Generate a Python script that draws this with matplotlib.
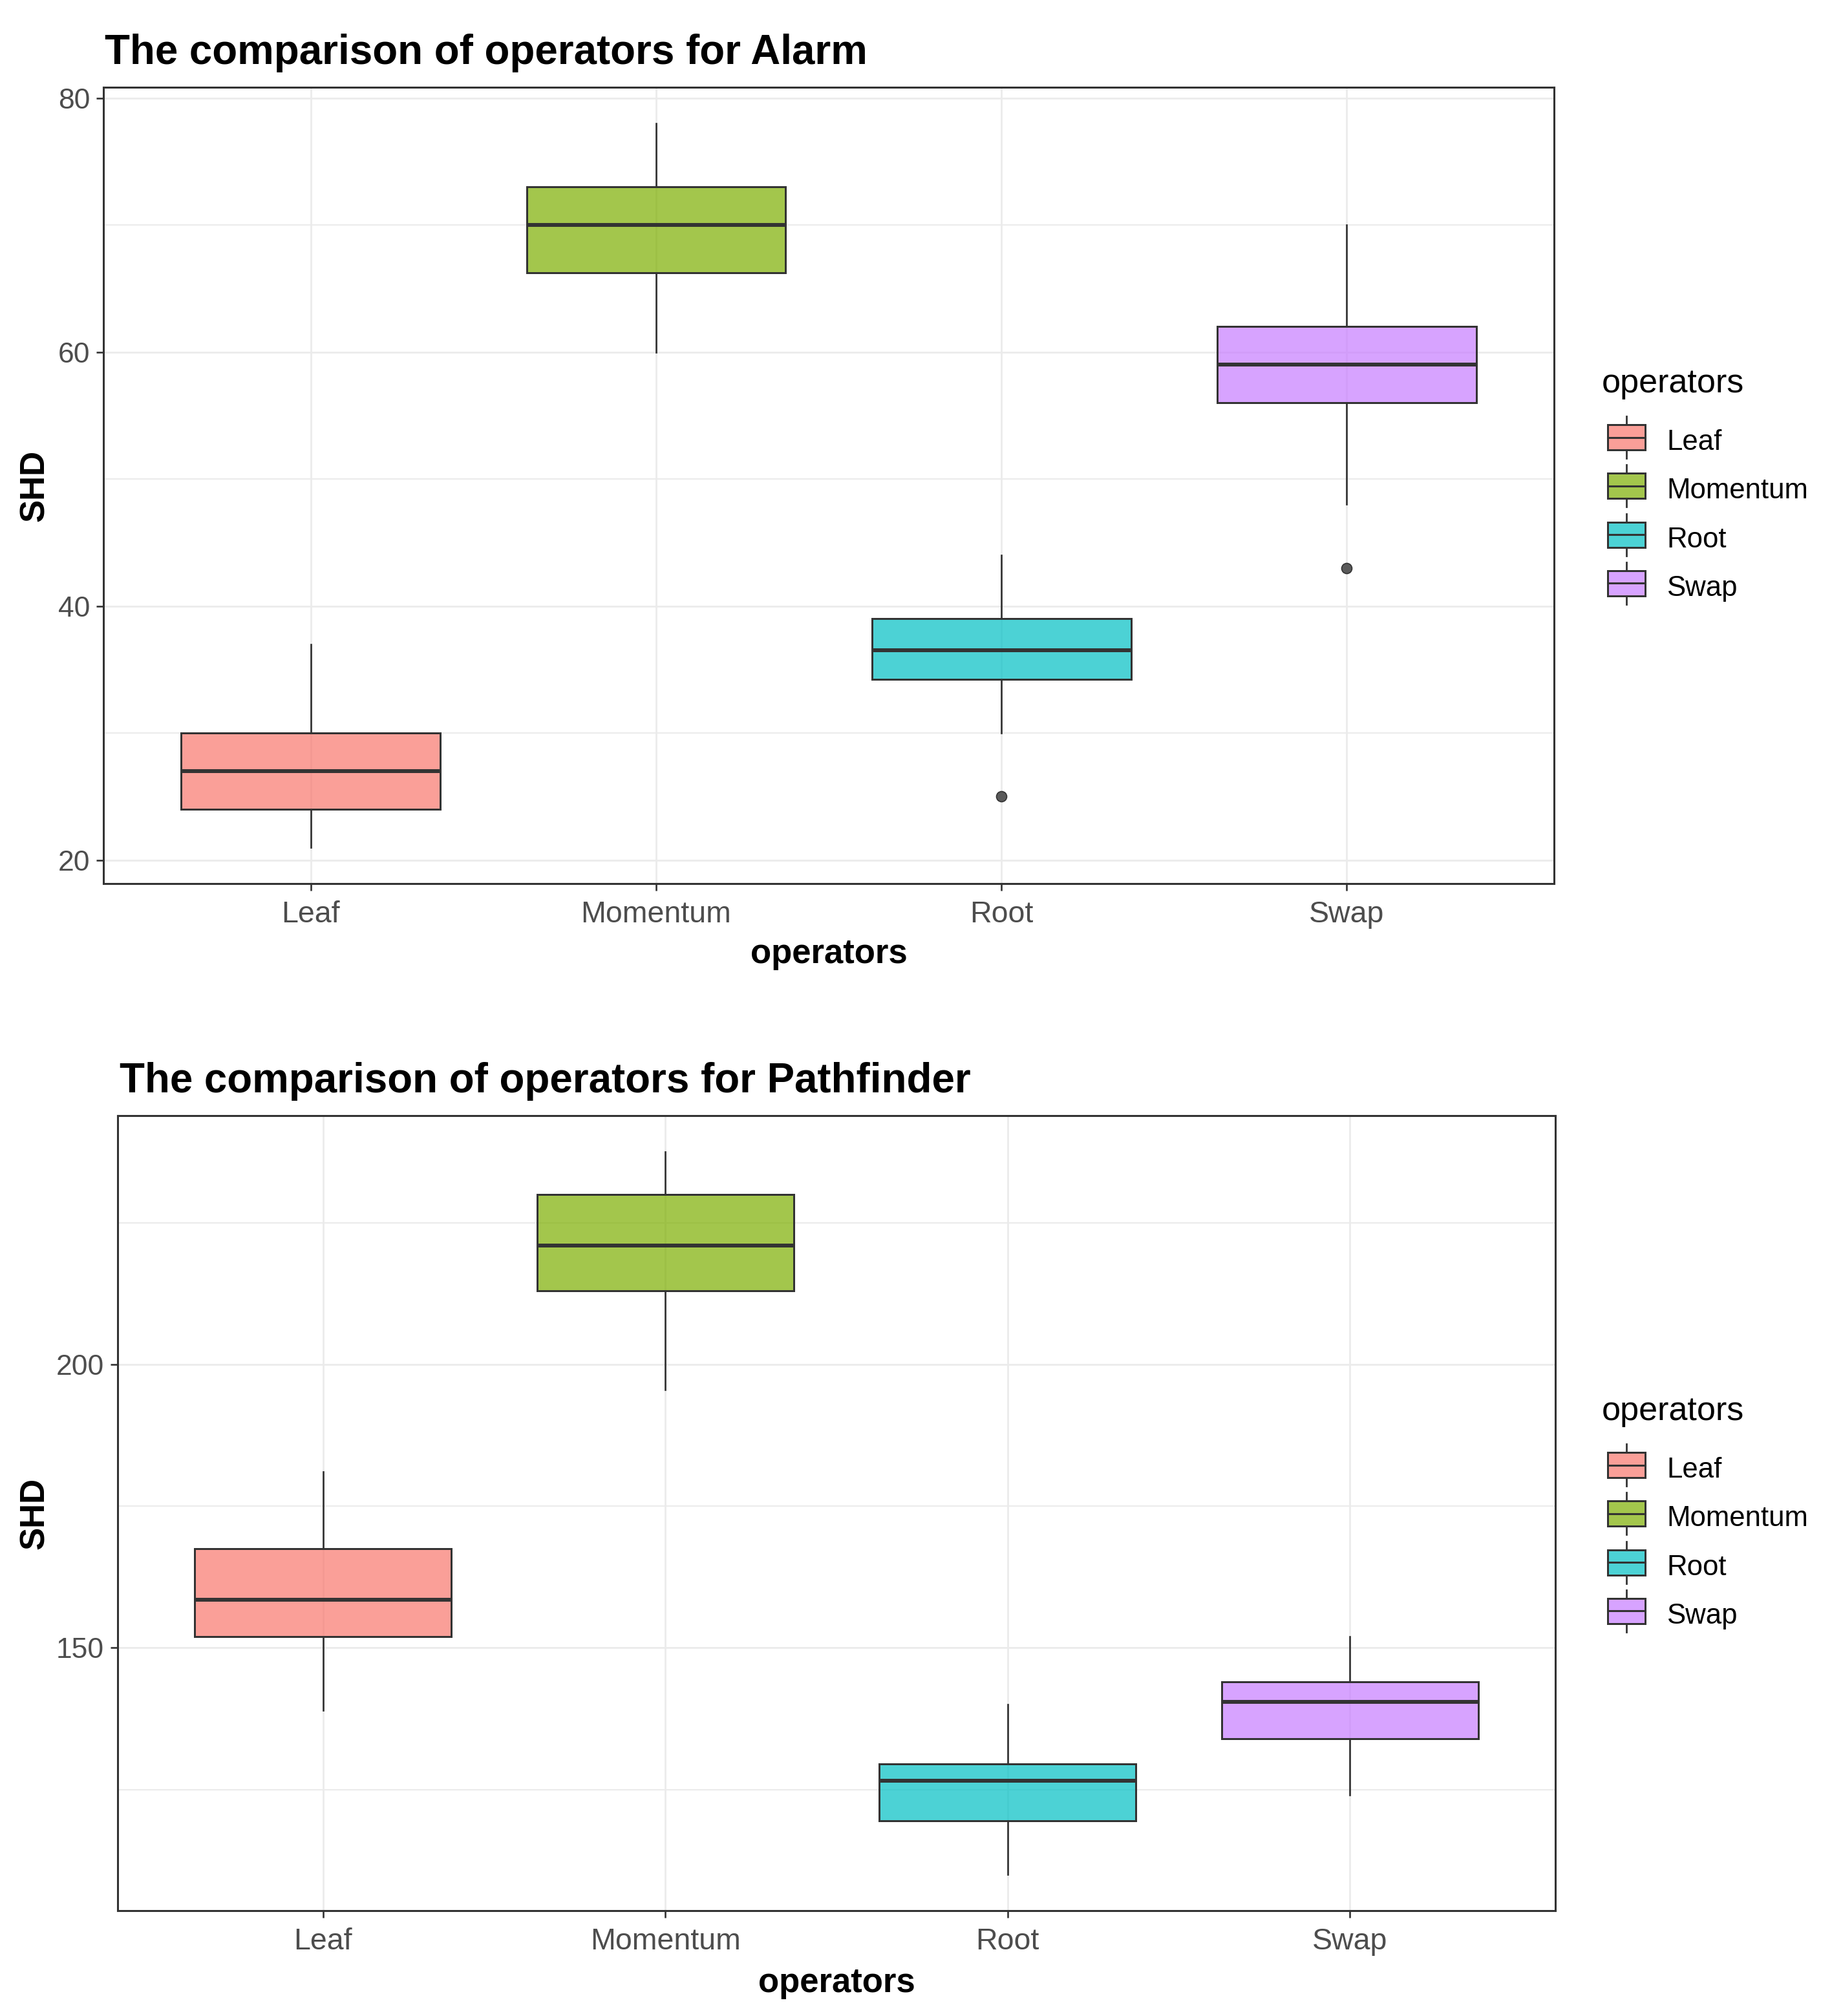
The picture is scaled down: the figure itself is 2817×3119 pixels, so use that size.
import matplotlib
matplotlib.use("Agg")
import matplotlib.pyplot as plt
from matplotlib.colors import to_rgba
from matplotlib.patches import Rectangle
from matplotlib.lines import Line2D

plt.rcParams['font.family'] = ['Liberation Sans', 'DejaVu Sans']

# ---------------- data ----------------
categories = ["Leaf", "Momentum", "Root", "Swap"]
fill_colors = ["#F8766D", "#7CAE00", "#00BFC4", "#C77CFF"]

alarm_whislo = [21, 60, 30, 48]
alarm_q1 = [24, 66.25, 34.25, 56]
alarm_med = [27, 70, 36.5, 59]
alarm_q3 = [30, 73, 39, 62]
alarm_whishi = [37, 78, 44, 70]
alarm_fliers = [[], [], [25], [43]]
alarm_major = [20, 40, 60, 80]
alarm_minor = [30, 50, 70]

path_whislo = [139, 195.5, 110, 124]
path_q1 = [152, 213, 119.5, 134]
path_med = [158.5, 221, 126.5, 140.5]
path_q3 = [167.5, 230, 129.5, 144]
path_whishi = [181, 237.5, 140, 152]
path_fliers = [[], [], [], []]
path_major = [150, 200]
path_minor = [125, 175, 225]

titles = ["The comparison of operators for Alarm",
          "The comparison of operators for Pathfinder"]
x_title = "operators"
y_title = "SHD"
legend_title = "operators"

# ---------------- layout ----------------
W, H = 2817, 3119
DPI = 100
EDGE = "#333333"
GRID = "#EBEBEB"
ALPHA = 0.7

fig = plt.figure(figsize=(W / DPI, H / DPI), dpi=DPI)
fig.patch.set_facecolor("white")


def fx(x):
    return x / W


def fy(y):
    return 1 - y / H


def make_axes(left, right, top, bottom):
    return fig.add_axes([fx(left), fy(bottom), (right - left) / W, (bottom - top) / H])


def draw_panel(ax, whislo, q1, med, q3, whishi, fliers, major, minor):
    stats = []
    for i in range(len(categories)):
        stats.append(dict(whislo=whislo[i], q1=q1[i], med=med[i], q3=q3[i],
                          whishi=whishi[i], fliers=fliers[i], label=categories[i]))
    positions = list(range(1, len(categories) + 1))
    bp = ax.bxp(stats, positions=positions, widths=0.75, patch_artist=True,
                showcaps=False, showfliers=True, manage_ticks=False,
                boxprops=dict(edgecolor=EDGE, linewidth=2.16),
                medianprops=dict(color=EDGE, linewidth=4.3, solid_capstyle='butt'),
                whiskerprops=dict(color=EDGE, linewidth=1.95),
                flierprops=dict(marker='o', markerfacecolor="#5A5A5A", markeredgecolor=EDGE,
                                markeredgewidth=1.2, markersize=11.5))
    for patch, c in zip(bp['boxes'], fill_colors):
        patch.set_facecolor(to_rgba(c, ALPHA))
        patch.set_edgecolor(EDGE)

    # scales (ggplot-like expansion)
    lo = min(min(whislo), min([min(f) for f in fliers if f] or [min(whislo)]))
    hi = max(max(whishi), max([max(f) for f in fliers if f] or [max(whishi)]))
    pad = 0.05 * (hi - lo)
    ax.set_ylim(lo - pad, hi + pad)
    ax.set_xlim(0.4, len(categories) + 0.6)

    ax.set_xticks(positions)
    ax.set_xticklabels(categories)
    ax.set_yticks(major)
    ax.set_yticklabels([str(v) for v in major])
    ax.set_yticks(minor, minor=True)

    ax.set_axisbelow(True)
    ax.grid(which='major', axis='both', color=GRID, linewidth=2.0)
    ax.grid(which='minor', axis='y', color=GRID, linewidth=1.5)

    ax.tick_params(axis='both', which='major', length=8, width=1.9, color=EDGE,
                   labelcolor="#4D4D4D")
    ax.tick_params(axis='x', labelsize=33.5, pad=11)
    ax.tick_params(axis='y', labelsize=32, pad=7)
    ax.tick_params(which='minor', length=0)
    for s in ax.spines.values():
        s.set_color(EDGE)
        s.set_linewidth(2.2)
    ax.set_facecolor("white")


def draw_legend(off):
    fig.text(fx(2478), fy(607 + off), legend_title, fontsize=37.5, color="black",
             ha='left', va='baseline')
    for i, (cat, c) in enumerate(zip(categories, fill_colors)):
        cy = 676.5 + 75.3 * i + off
        x0, x1 = 2487, 2545
        xm = (x0 + x1) / 2
        fig.add_artist(Rectangle((fx(x0), fy(cy + 19.5)), (x1 - x0) / W, 39 / H,
                                 transform=fig.transFigure, facecolor=to_rgba(c, ALPHA),
                                 edgecolor=EDGE, linewidth=2.16))
        fig.add_artist(Line2D([fx(x0), fx(x1)], [fy(cy), fy(cy)], transform=fig.transFigure,
                              color=EDGE, linewidth=2.2))
        fig.add_artist(Line2D([fx(xm), fx(xm)], [fy(cy - 32.5), fy(cy - 19.5)],
                              transform=fig.transFigure, color=EDGE, linewidth=2.0))
        fig.add_artist(Line2D([fx(xm), fx(xm)], [fy(cy + 19.5), fy(cy + 32.5)],
                              transform=fig.transFigure, color=EDGE, linewidth=2.0))
        fig.text(fx(2578), fy(cy + 19.5), cat, fontsize=31.5, color="black",
                 ha='left', va='baseline')


# ---------------- top panel ----------------
ax1 = make_axes(160, 2404, 135, 1367)
draw_panel(ax1, alarm_whislo, alarm_q1, alarm_med, alarm_q3, alarm_whishi,
           alarm_fliers, alarm_major, alarm_minor)
fig.text(fx(162), fy(99), titles[0], fontsize=45.8, fontweight='bold', ha='left', va='baseline')
fig.text(fx(54), fy((135 + 1367) / 2), y_title, fontsize=38, fontweight='bold',
         rotation=90, ha='center', va='center')
fig.text(fx((160 + 2404) / 2), fy(1490), x_title, fontsize=38, fontweight='bold',
         ha='center', va='baseline')
draw_legend(0)

# ---------------- bottom panel ----------------
ax2 = make_axes(182, 2406, 1726, 2956)
draw_panel(ax2, path_whislo, path_q1, path_med, path_q3, path_whishi,
           path_fliers, path_major, path_minor)
fig.text(fx(185), fy(1690), titles[1], fontsize=45.8, fontweight='bold', ha='left', va='baseline')
fig.text(fx(54), fy((1726 + 2956) / 2), y_title, fontsize=38, fontweight='bold',
         rotation=90, ha='center', va='center')
fig.text(fx((182 + 2406) / 2), fy(3082), x_title, fontsize=38, fontweight='bold',
         ha='center', va='baseline')
draw_legend(1590)

fig.savefig("out.png", dpi=DPI, facecolor="white")
